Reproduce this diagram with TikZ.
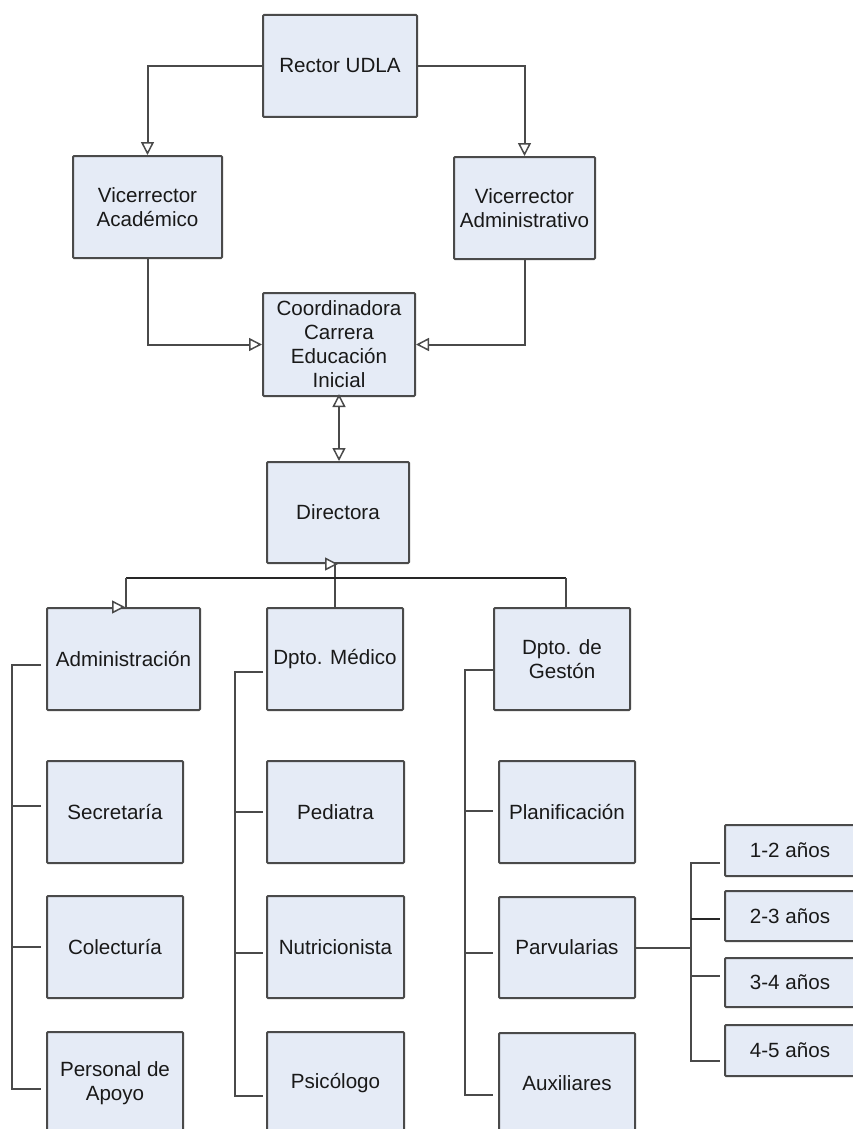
\documentclass[tikz,border=0pt]{standalone}
\usepackage{fontspec}
\setmainfont{Liberation Sans}
\usetikzlibrary{arrows.meta,calc}
\definecolor{boxfill}{HTML}{E5EBF6}
\definecolor{boxline}{HTML}{4A4A4A}
\definecolor{lnk}{HTML}{4A4A4A}
\begin{document}
\begin{tikzpicture}[x=1pt,y=-1pt,
  box/.style={draw=boxline, fill=boxfill, line width=2pt, rounded corners=1pt,
    align=center, inner sep=0pt, font=\fontsize{20.6}{24}\selectfont, text=black!90},
  conn/.style={draw=lnk, line width=2pt},
  thinbus/.style={draw=black!85, line width=1.6pt},
  tri/.style={-{Triangle[fill=white,length=13pt,width=13pt,line width=1.5pt]}},
  dtri/.style={{Triangle[fill=white,length=13pt,width=13pt,line width=1.5pt]}-{Triangle[fill=white,length=13pt,width=13pt,line width=1.5pt]}}]
\useasboundingbox (0,0) rectangle (853,1129);
\fill[white] (0,0) rectangle (853,1129);
\clip (0,0) rectangle (853,1129);

% top levels
\node[box, minimum width=154, minimum height=102] (rector) at (340,66) {Rector UDLA};
\node[box, minimum width=149, minimum height=102] (vacad) at (147.5,207) {Vicerrector\\Académico};
\node[box, minimum width=141, minimum height=102] (vadm) at (524.5,208) {Vicerrector\\Administrativo};
\node[box, minimum width=152, minimum height=103] (coord) at (339,344.5) {Coordinadora\\Carrera\\Educación\\Inicial};
\node[box, minimum width=142, minimum height=101] (dir) at (338,512.5) {Directora};

% departments
\node[box, minimum width=153, minimum height=102] (admin) at (123.5,659) {Administración};
\node[box, minimum width=136, minimum height=102] (medico) at (335,659) {Dpto. Médico};
\node[box, minimum width=136, minimum height=102] (gestion) at (562,659) {Dpto. de\\Gestón};

% left column
\node[box, minimum width=136, minimum height=102] (secret) at (115,812) {Secretaría};
\node[box, minimum width=136, minimum height=102] (colect) at (115,947) {Colecturía};
\node[box, minimum width=136, minimum height=102] (personal) at (115,1083) {Personal de\\Apoyo};

% middle column
\node[box, minimum width=137, minimum height=102] (pediatra) at (335.5,812) {Pediatra};
\node[box, minimum width=137, minimum height=102] (nutri) at (335.5,947) {Nutricionista};
\node[box, minimum width=137, minimum height=102] (psico) at (335.5,1083) {Psicólogo};

% right column
\node[box, minimum width=136, minimum height=102] (planif) at (567,812) {Planificación};
\node[box, minimum width=136, minimum height=101] (parv) at (567,947.5) {Parvularias};
\node[box, minimum width=136, minimum height=101] (aux) at (567,1083.5) {Auxiliares};

% age groups
\node[box, minimum width=130, minimum height=51] (a12) at (790,850.5) {1-2 años};
\node[box, minimum width=130, minimum height=50] (a23) at (790,916) {2-3 años};
\node[box, minimum width=130, minimum height=49] (a34) at (790,982.5) {3-4 años};
\node[box, minimum width=130, minimum height=51] (a45) at (790,1050.5) {4-5 años};

% connectors top
\draw[conn,tri] (rector.west) -| (vacad.north);
\draw[conn,tri] (rector.east) -| (vadm.north);
\draw[conn,tri] (vacad.south) |- (coord.west);
\draw[conn,tri] (vadm.south) |- (coord.east);
\draw[conn,dtri] ($(coord.south)+(0,-3)$) -- (coord.south |- dir.north);

% directora to departments
\coordinate (busL) at ($(admin.north)+(2.5,-29)$);
\coordinate (busR) at ($(gestion.north)+(4,-29)$);
\draw[conn] (dir.south -| medico.north) -- (medico.north);
\draw[thinbus] (busL) -- (busR);
\draw[conn] (busL) -- (busL |- admin.north);
\draw[conn] (busR) -- (busR |- gestion.north);
\draw[conn,tri] ($(dir.south)+(-13,0)$) -- (dir.south);
\draw[conn,tri] ($(busL |- admin.north)+(-14,0)$) -- ($(busL |- admin.north)+(-1,0)$);

% left column connectors
\draw[conn] ($(admin.west)+(-5,6)$) -| ($(personal.west)+(-34,6)$) -- ($(personal.west)+(-5,6)$);
\draw[conn] ($(secret.west)+(-34,-6)$) -- ($(secret.west)+(-5,-6)$);
\draw[conn] ($(colect.west)+(-34,0)$) -- ($(colect.west)+(-5,0)$);

% middle column connectors
\draw[conn] ($(medico.west)+(-3,13)$) -| ($(psico.west)+(-31,13)$) -- ($(psico.west)+(-3,13)$);
\draw[conn] ($(pediatra.west)+(-31,0)$) -- ($(pediatra.west)+(-3,0)$);
\draw[conn] ($(nutri.west)+(-31,6)$) -- ($(nutri.west)+(-3,6)$);

% right column connectors
\draw[conn] (gestion.west |- 0,670) -| ($(aux.west)+(-33,11)$) -- ($(aux.west)+(-5,11)$);
\draw[conn] ($(planif.west)+(-33,-1)$) -- ($(planif.west)+(-5,-1)$);
\draw[conn] ($(parv.west)+(-33,5)$) -- ($(parv.west)+(-5,5)$);

% parvularias to age groups
\coordinate (sp) at ($(a12.west)+(-33,0)$);
\draw[conn] (parv.east) -- (parv.east -| sp);
\draw[conn] ($(a12.west)+(-4,12.5)$) -| ($(a45.west)+(-33,10.5)$) -- ($(a45.west)+(-4,10.5)$);
\draw[thinbus] ($(a23.west)+(-33,3)$) -- ($(a23.west)+(-4,3)$);
\draw[conn] ($(a34.west)+(-33,-6.5)$) -- ($(a34.west)+(-4,-6.5)$);
\end{tikzpicture}
\end{document}
